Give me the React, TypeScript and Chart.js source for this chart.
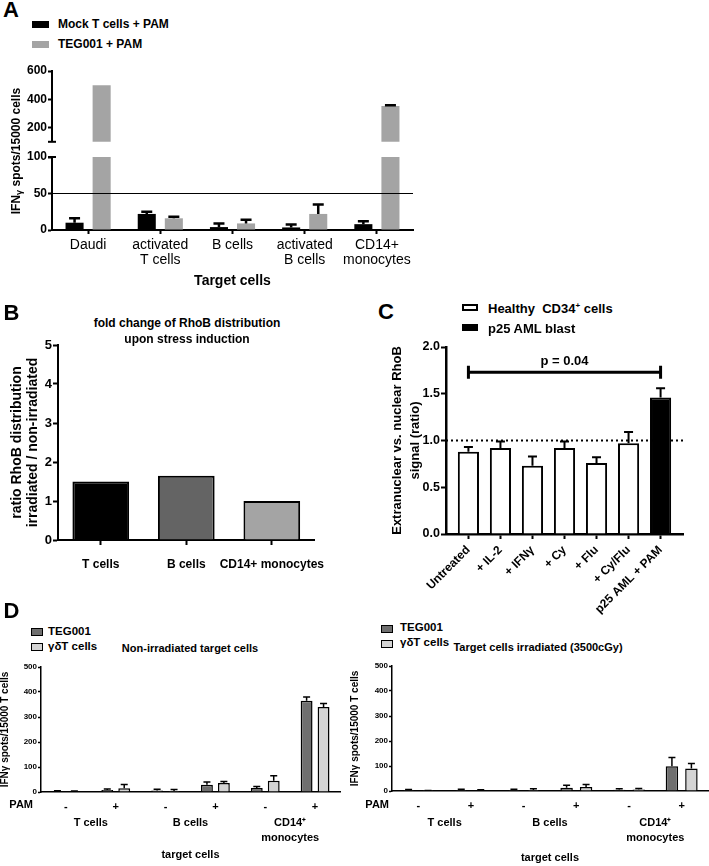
import React, { useEffect, useRef } from 'react';
import { Chart, registerables } from 'chart.js';

Chart.register(...registerables);

const FONT = '"Liberation Sans", Arial, Helvetica, sans-serif';
Chart.defaults.font.family = FONT;
Chart.defaults.color = '#000';

// ===== Panel A data =====
const A_CATEGORIES: any[] = ['Daudi', ['activated', 'T cells'], 'B cells', ['activated', 'B cells'], ['CD14+', 'monocytes']];
const A_SERIES = ['Mock T cells + PAM', 'TEG001 + PAM'];
const A_MOCK = [10, 22, 4, 3.5, 8];
const A_MOCK_ERR = [6, 3, 5, 4, 4];
const A_TEG = [500, 16, 9, 22, 353];
const A_TEG_ERR = [0, 2, 5, 13, 5];
const A_UPPER_TICKS = [200, 400, 600];
const A_LOWER_TICKS = [0, 50, 100];
const A_THRESHOLD = 50;

// ===== Panel B data =====
const B_CATEGORIES = ['T cells', 'B cells', 'CD14+ monocytes'];
const B_VALUES = [1.5, 1.65, 1.0];
const B_TICKS = [0, 1, 2, 3, 4, 5];

// ===== Panel C data =====
const C_SERIES = ['Healthy  CD34', 'p25 AML blast'];
const C_CATEGORIES = ['Untreated', '+ IL-2', '+ IFNγ', '+ Cy', '+ Flu', '+ Cy/Flu', 'p25 AML + PAM'];
const C_SERIES_OF_BAR = [0, 0, 0, 0, 0, 0, 1];
const C_VALUES = [0.88, 0.92, 0.73, 0.92, 0.76, 0.97, 1.46];
const C_ERR = [0.05, 0.07, 0.1, 0.07, 0.06, 0.12, 0.1];
const C_TICKS = [0, 0.5, 1.0, 1.5, 2.0];
const C_REFERENCE = 1.0;
const C_BRACKET_VALUE = 1.73;
const C_BRACKET_FROM = 0;
const C_BRACKET_TO = 6;
const C_P_LABEL = 'p = 0.04';

// ===== Panel D data =====
const D_SERIES = ['TEG001', 'γδT cells'];
const D_PAM = ['-', '+', '-', '+', '-', '+'];
const D_GROUPS = [['T cells'], ['B cells'], ['CD14⁺', 'monocytes']];
const D_TICKS = [0, 100, 200, 300, 400, 500];
const D_NONIRR_TEG = [3, 8, 6, 29, 16, 365];
const D_NONIRR_TEG_ERR = [2, 4, 5, 11, 6, 15];
const D_NONIRR_GD = [2, 15, 4, 36, 45, 340];
const D_NONIRR_GD_ERR = [2, 15, 6, 6, 20, 14];
const D_IRR_TEG = [4, 4, 4, 13, 5, 99];
const D_IRR_TEG_ERR = [2, 3, 3, 10, 4, 35];
const D_IRR_GD = [1, 3, 4, 16, 6, 90];
const D_IRR_GD_ERR = [1, 2, 5, 10, 4, 20];

// ===== colours =====
const GRAY_A = '#a4a4a4';
const B_COLORS = ['#000000', '#646464', '#a4a4a4'];
const D_COLORS = ['#6f6f6f', '#d4d4d4'];

// ===== plugins =====
const errorBarsPlugin = {
  id: 'errorBars',
  afterDatasetsDraw(chart: any, _a: any, o: any) {
    const { ctx, chartArea: a } = chart;
    const ys = chart.scales.y;
    ctx.save();
    ctx.beginPath();
    ctx.rect(a.left, a.top - 3, a.right - a.left, a.bottom - a.top + 3);
    ctx.clip();
    ctx.strokeStyle = o.color || '#000';
    ctx.lineWidth = o.width || 1.5;
    chart.data.datasets.forEach((ds: any, di: number) => {
      const errs = ds.errors;
      if (!errs) return;
      chart.getDatasetMeta(di).data.forEach((el: any, i: number) => {
        const e = errs[i];
        const v = ds.data[i];
        if (!e) return;
        const y0 = ys.getPixelForValue(v);
        const y1 = ys.getPixelForValue(v + e);
        ctx.beginPath();
        ctx.moveTo(el.x, y0);
        ctx.lineTo(el.x, y1);
        ctx.moveTo(el.x - o.cap / 2, y1);
        ctx.lineTo(el.x + o.cap / 2, y1);
        ctx.stroke();
      });
    });
    ctx.restore();
  },
};

const refLinePlugin = {
  id: 'refLine',
  afterDatasetsDraw(chart: any, _a: any, o: any) {
    const { ctx, chartArea: a } = chart;
    const y = chart.scales.y.getPixelForValue(o.value);
    ctx.save();
    ctx.strokeStyle = o.color || '#000';
    ctx.lineWidth = o.width || 1;
    ctx.setLineDash(o.dash || []);
    ctx.beginPath();
    ctx.moveTo(a.left, y);
    ctx.lineTo(a.right, y);
    ctx.stroke();
    ctx.restore();
  },
};

const axisCapPlugin = {
  id: 'axisCap',
  afterDraw(chart: any, _a: any, o: any) {
    const { ctx, chartArea: a } = chart;
    const y = o.edge === 'top' ? a.top : a.bottom;
    ctx.save();
    ctx.strokeStyle = '#000';
    ctx.lineWidth = o.width || 2;
    ctx.beginPath();
    ctx.moveTo(a.left - o.half, y);
    ctx.lineTo(a.left + o.half, y);
    ctx.stroke();
    ctx.restore();
  },
};

const bracketPlugin = {
  id: 'bracket',
  afterDatasetsDraw(chart: any, _a: any, o: any) {
    const { ctx } = chart;
    const xs = chart.scales.x;
    const ys = chart.scales.y;
    const x0 = xs.getPixelForValue(o.from);
    const x1 = xs.getPixelForValue(o.to);
    const y = ys.getPixelForValue(o.value);
    ctx.save();
    ctx.strokeStyle = '#000';
    ctx.lineWidth = 3;
    ctx.beginPath();
    ctx.moveTo(x0, y);
    ctx.lineTo(x1, y);
    ctx.moveTo(x0, y - 6.5);
    ctx.lineTo(x0, y + 6.5);
    ctx.moveTo(x1, y - 6.5);
    ctx.lineTo(x1, y + 6.5);
    ctx.stroke();
    ctx.fillStyle = '#000';
    ctx.font = `bold 13px ${FONT}`;
    ctx.textAlign = 'center';
    ctx.textBaseline = 'middle';
    ctx.fillText(o.text, (x0 + x1) / 2, y - 11);
    ctx.restore();
  },
};

const groupLabelPlugin = {
  id: 'groupLabels',
  afterDraw(chart: any, _a: any, o: any) {
    const { ctx, chartArea: a } = chart;
    const xs = chart.scales.x;
    ctx.save();
    ctx.fillStyle = '#000';
    ctx.font = `bold ${o.size}px ${FONT}`;
    ctx.textAlign = 'center';
    ctx.textBaseline = 'middle';
    o.groups.forEach((lines: string[], g: number) => {
      const x = (xs.getPixelForValue(2 * g) + xs.getPixelForValue(2 * g + 1)) / 2;
      lines.forEach((t, k) => ctx.fillText(t, x, a.bottom + o.offset + k * o.lineGap));
    });
    ctx.textAlign = 'right';
    ctx.fillText(o.rowLabel, a.left - o.rowGap, a.bottom + o.rowOffset);
    ctx.restore();
  },
};

// ===== helpers =====
const setTicks = (vals: number[]) => (s: any) => {
  s.ticks = vals.map((v) => ({ value: v }));
};
const setWidth = (w: number) => (s: any) => {
  s.width = w;
};
const setHeight = (h: number) => (s: any) => {
  s.height = h;
};
const basePlugins = { legend: { display: false }, tooltip: { enabled: false }, title: { display: false } };
const base = (padding: any) => ({ responsive: false, animation: false, events: [], layout: { padding } });

function aDatasets() {
  return [
    { label: A_SERIES[0], data: A_MOCK, errors: A_MOCK_ERR, backgroundColor: '#000', borderWidth: 0, clip: 0 },
    { label: A_SERIES[1], data: A_TEG, errors: A_TEG_ERR, backgroundColor: GRAY_A, borderWidth: 0, clip: 0 },
  ];
}
const aBar = { categoryPercentage: 0.75, barPercentage: 0.667 };

function makeAUpper(): any {
  return {
    type: 'bar',
    data: { labels: A_CATEGORIES, datasets: aDatasets() },
    options: {
      ...base({ top: 11, right: 7, bottom: 4, left: 0 }),
      datasets: { bar: aBar },
      plugins: { ...basePlugins, errorBars: { width: 2.5, cap: 11 }, axisCap: { edge: 'bottom', half: 4, width: 2 } },
      scales: {
        x: { display: false, offset: true },
        y: {
          min: 100,
          max: 600,
          afterBuildTicks: setTicks(A_UPPER_TICKS),
          afterFit: setWidth(52),
          grid: { drawOnChartArea: false, tickLength: 4, tickWidth: 2, tickColor: '#000' },
          border: { color: '#000', width: 2 },
          ticks: { font: { size: 12, weight: 'bold' }, padding: 1, color: '#000' },
        },
      },
    },
    plugins: [errorBarsPlugin, axisCapPlugin],
  };
}

function makeALower(): any {
  return {
    type: 'bar',
    data: { labels: A_CATEGORIES, datasets: aDatasets() },
    options: {
      ...base({ top: 12, right: 7, bottom: 0, left: 0 }),
      datasets: { bar: aBar },
      plugins: {
        ...basePlugins,
        errorBars: { width: 2.5, cap: 11 },
        refLine: { value: A_THRESHOLD, width: 1.2 },
        axisCap: { edge: 'top', half: 4, width: 2 },
      },
      scales: {
        x: {
          offset: true,
          afterFit: setHeight(65),
          grid: { drawOnChartArea: false, offset: false, tickLength: 4, tickWidth: 2, tickColor: '#000' },
          border: { color: '#000', width: 2 },
          ticks: { font: { size: 14, lineHeight: '15px' }, padding: 4, maxRotation: 0, autoSkip: false, color: '#000' },
          title: {
            display: true,
            text: 'Target cells',
            font: { size: 14, weight: 'bold', lineHeight: 1.2 },
            padding: { top: 0, bottom: 5 },
            color: '#000',
          },
        },
        y: {
          min: 0,
          max: 100,
          afterBuildTicks: setTicks(A_LOWER_TICKS),
          afterFit: setWidth(52),
          grid: { drawOnChartArea: false, tickLength: 4, tickWidth: 2, tickColor: '#000' },
          border: { color: '#000', width: 2 },
          ticks: { font: { size: 12, weight: 'bold' }, padding: 1, color: '#000' },
        },
      },
    },
    plugins: [errorBarsPlugin, refLinePlugin, axisCapPlugin],
  };
}

function makeB(): any {
  return {
    type: 'bar',
    data: {
      labels: B_CATEGORIES,
      datasets: [
        {
          data: B_VALUES,
          backgroundColor: B_COLORS,
          borderColor: '#000',
          borderWidth: 2,
          clip: 0,
          categoryPercentage: 1,
          barPercentage: 0.663,
        },
      ],
    },
    options: {
      ...base({ top: 10, right: 24, bottom: 0, left: 0 }),
      plugins: { ...basePlugins },
      scales: {
        x: {
          offset: true,
          afterFit: setHeight(40),
          grid: { drawOnChartArea: false, offset: false, tickLength: 5, tickWidth: 2, tickColor: '#000' },
          border: { color: '#000', width: 2 },
          ticks: { font: { size: 12, weight: 'bold' }, padding: 12, maxRotation: 0, autoSkip: false, color: '#000' },
        },
        y: {
          min: 0,
          max: 5,
          afterBuildTicks: setTicks(B_TICKS),
          afterFit: setWidth(58),
          grid: { drawOnChartArea: false, tickLength: 5, tickWidth: 2, tickColor: '#000' },
          border: { color: '#000', width: 2 },
          ticks: { font: { size: 13, weight: 'bold' }, padding: 1, color: '#000' },
          title: {
            display: true,
            text: ['ratio RhoB distribution', 'irradiated / non-irradiated'],
            font: { size: 14, weight: 'bold', lineHeight: '16px' },
            padding: { top: 9, bottom: 0 },
            color: '#000',
          },
        },
      },
    },
  };
}

const C_AXIS_PAD = 0.2;
function makeC(): any {
  return {
    type: 'bar',
    data: {
      labels: C_CATEGORIES,
      datasets: [
        {
          data: C_VALUES,
          errors: C_ERR,
          backgroundColor: C_SERIES_OF_BAR.map((s) => (s ? '#000' : '#fff')),
          borderColor: '#000',
          borderWidth: 2,
          clip: 0,
          categoryPercentage: 1,
          barPercentage: 0.66,
        },
      ],
    },
    options: {
      ...base({ top: 10, right: 26, bottom: 0, left: 0 }),
      plugins: {
        ...basePlugins,
        errorBars: { width: 2, cap: 9 },
        refLine: { value: C_REFERENCE, width: 2, dash: [2, 3] },
        bracket: { from: C_BRACKET_FROM, to: C_BRACKET_TO, value: C_BRACKET_VALUE, text: C_P_LABEL },
      },
      scales: {
        x: {
          offset: true,
          afterBuildTicks: (s: any) => {
            s._startValue -= C_AXIS_PAD;
            s._valueRange += 2 * C_AXIS_PAD;
          },
          afterFit: setHeight(86),
          grid: { drawOnChartArea: false, offset: false, tickLength: 5, tickWidth: 2, tickColor: '#000' },
          border: { color: '#000', width: 2.5 },
          ticks: { font: { size: 12, weight: 'bold' }, padding: 4, minRotation: 45, maxRotation: 45, autoSkip: false, color: '#000' },
        },
        y: {
          min: 0,
          max: 2,
          afterBuildTicks: setTicks(C_TICKS),
          afterFit: setWidth(106),
          grid: { drawOnChartArea: false, tickLength: 5, tickWidth: 2, tickColor: '#000' },
          border: { color: '#000', width: 2.5 },
          ticks: { font: { size: 12.5, weight: 'bold' }, padding: 1, color: '#000', callback: (v: any) => Number(v).toFixed(1) },
          title: {
            display: true,
            text: ['Extranuclear vs. nuclear RhoB', 'signal (ratio)'],
            font: { size: 13, weight: 'bold', lineHeight: '18px' },
            padding: { top: 48, bottom: 0 },
            color: '#000',
          },
        },
      },
    },
    plugins: [refLinePlugin, errorBarsPlugin, bracketPlugin],
  };
}

function makeD(teg: number[], tegErr: number[], gd: number[], gdErr: number[], g: any): any {
  return {
    type: 'bar',
    data: {
      labels: D_PAM,
      datasets: [
        { label: D_SERIES[0], data: teg, errors: tegErr, backgroundColor: D_COLORS[0], borderColor: '#000', borderWidth: 1.5, clip: 0 },
        { label: D_SERIES[1], data: gd, errors: gdErr, backgroundColor: D_COLORS[1], borderColor: '#000', borderWidth: 1.5, clip: 0 },
      ],
    },
    options: {
      ...base({ top: g.padTop, right: g.padRight, bottom: 0, left: 0 }),
      datasets: { bar: { categoryPercentage: g.catPct, barPercentage: g.barPct } },
      plugins: {
        ...basePlugins,
        errorBars: { width: 1.5, cap: 7 },
        groupLabels: { groups: D_GROUPS, size: 11, offset: g.groupOffset, lineGap: 15, rowLabel: 'PAM', rowGap: g.rowGap, rowOffset: g.rowOffset },
      },
      scales: {
        x: {
          offset: true,
          afterFit: setHeight(g.xHeight),
          grid: { drawOnChartArea: false, drawTicks: false, offset: false },
          border: { color: '#000', width: 1.5 },
          ticks: { font: { size: 11, weight: 'bold' }, padding: 8, maxRotation: 0, autoSkip: false, color: '#000' },
          title: {
            display: true,
            text: 'target cells',
            font: { size: 11, weight: 'bold', lineHeight: 1.2 },
            padding: { top: 0, bottom: g.titleBottom },
            color: '#000',
          },
        },
        y: {
          min: 0,
          max: 500,
          afterBuildTicks: setTicks(D_TICKS),
          afterFit: setWidth(g.yWidth),
          grid: { drawOnChartArea: false, tickLength: 3, tickWidth: 1.5, tickColor: '#000' },
          border: { color: '#000', width: 1.5 },
          ticks: { font: { size: 8, weight: 'bold' }, padding: 1, color: '#000' },
          title: {
            display: true,
            text: 'IFNγ spots/15000 T cells',
            font: { size: 10, weight: 'bold', lineHeight: 1.1 },
            padding: { top: 0, bottom: 0 },
            color: '#000',
          },
        },
      },
    },
    plugins: [errorBarsPlugin, groupLabelPlugin],
  };
}

const makeDLeft = () =>
  makeD(D_NONIRR_TEG, D_NONIRR_TEG_ERR, D_NONIRR_GD, D_NONIRR_GD_ERR, {
    padTop: 12, padRight: 10, xHeight: 74, yWidth: 41, catPct: 0.68, barPct: 0.7,
    groupOffset: 31, rowGap: 8, rowOffset: 13, titleBottom: 4,
  });
const makeDRight = () =>
  makeD(D_IRR_TEG, D_IRR_TEG_ERR, D_IRR_GD, D_IRR_GD_ERR, {
    padTop: 11, padRight: 1, xHeight: 75, yWidth: 42, catPct: 0.74, barPct: 0.64,
    groupOffset: 32, rowGap: 3, rowOffset: 14, titleBottom: 1.5,
  });

// ===== components =====
function ChartCanvas({ left, top, width, height, make }: any) {
  const ref = useRef<HTMLCanvasElement>(null);
  useEffect(() => {
    const chart = new Chart(ref.current as HTMLCanvasElement, make());
    return () => chart.destroy();
  }, [make]);
  return <canvas ref={ref} width={width} height={height} style={{ position: 'absolute', left, top, width, height }} />;
}

function Txt({ x, y, size, bold = true, align = 'left', rotate, children }: any) {
  const tx = align === 'center' ? '-50%' : align === 'right' ? '-100%' : '0';
  return (
    <div
      style={{
        position: 'absolute',
        left: x,
        top: y,
        transform: `translate(${tx}, -50%)${rotate ? ` rotate(${rotate}deg)` : ''}`,
        font: `${bold ? 'bold ' : ''}${size}px ${FONT}`,
        lineHeight: 1,
        whiteSpace: 'pre',
        color: '#000',
      }}
    >
      {children}
    </div>
  );
}

function Box({ x, y, w, h, fill, border = 0 }: any) {
  return (
    <div
      style={{
        position: 'absolute',
        left: x,
        top: y,
        width: w,
        height: h,
        background: fill,
        border: border ? `${border}px solid #000` : 'none',
        boxSizing: 'border-box',
      }}
    />
  );
}

export default function App() {
  return (
    <div style={{ position: 'absolute', left: 0, top: 0, width: 709, height: 866, background: '#fff', overflow: 'hidden' }}>
      {/* Panel A */}
      <ChartCanvas left={0} top={60} width={420} height={90} make={makeAUpper} />
      <ChartCanvas left={0} top={145} width={420} height={150} make={makeALower} />
      <Txt x={3} y={10} size={22}>A</Txt>
      <Box x={32} y={21} w={17} h={7} fill="#000" />
      <Txt x={58} y={24} size={12}>{A_SERIES[0]}</Txt>
      <Box x={32} y={41} w={17} h={7} fill={GRAY_A} />
      <Txt x={58} y={44} size={12}>{A_SERIES[1]}</Txt>
      <Txt x={17} y={151} size={12} align="center" rotate={-90}>
        IFN<span style={{ fontSize: 9, verticalAlign: -2 }}>γ</span> spots/15000 cells
      </Txt>

      {/* Panel B */}
      <ChartCanvas left={0} top={335} width={340} height={245} make={makeB} />
      <Txt x={3.5} y={312.5} size={22}>B</Txt>
      <Txt x={187} y={323} size={12} align="center">fold change of RhoB distribution</Txt>
      <Txt x={187} y={339} size={12} align="center">upon stress induction</Txt>

      {/* Panel C */}
      <ChartCanvas left={340} top={337} width={369} height={283} make={makeC} />
      <Txt x={378} y={311.5} size={22}>C</Txt>
      <Box x={462} y={303.5} w={16} h={7.5} fill="#fff" border={2} />
      <Txt x={488} y={308} size={13}>
        {C_SERIES[0]}
        <sup style={{ fontSize: 8, verticalAlign: 5 }}>+</sup> cells
      </Txt>
      <Box x={462} y={324} w={16} h={7} fill="#000" />
      <Txt x={488} y={328} size={13}>{C_SERIES[1]}</Txt>

      {/* Panel D */}
      <ChartCanvas left={0} top={655} width={350} height={211} make={makeDLeft} />
      <ChartCanvas left={350} top={655} width={359} height={211} make={makeDRight} />
      <Txt x={3.5} y={610.5} size={22}>D</Txt>
      <Box x={31} y={628} w={12} h={8} fill={D_COLORS[0]} border={1} />
      <Txt x={48} y={632} size={11.5}>{D_SERIES[0]}</Txt>
      <Box x={31} y={643} w={12} h={8} fill={D_COLORS[1]} border={1} />
      <Txt x={48} y={647} size={11.5}>{D_SERIES[1]}</Txt>
      <Txt x={190} y={648} size={11} align="center">Non-irradiated target cells</Txt>
      <Box x={381} y={625} w={12} h={8} fill={D_COLORS[0]} border={1} />
      <Txt x={400} y={628} size={11.5}>{D_SERIES[0]}</Txt>
      <Box x={381} y={640} w={12} h={8} fill={D_COLORS[1]} border={1} />
      <Txt x={400} y={643} size={11.5}>{D_SERIES[1]}</Txt>
      <Txt x={538} y={647} size={11} align="center">Target cells irradiated (3500cGy)</Txt>
    </div>
  );
}
